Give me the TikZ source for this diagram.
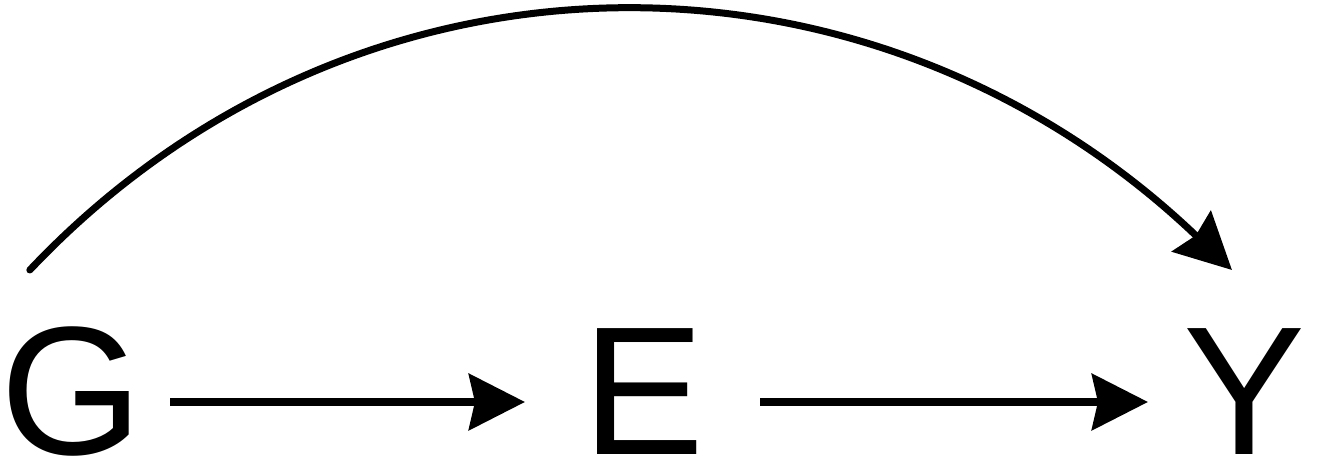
\documentclass[tikz,border=0pt]{standalone}
\usepackage{fontspec}
\setmainfont{Liberation Sans}
\usetikzlibrary{arrows.meta}
\begin{document}
\begin{tikzpicture}[x=1pt,y=1pt,
  var/.style={inner sep=0pt,outer sep=0pt,anchor=base,text depth=0pt,font=\fontsize{183}{200}\selectfont},
  conn/.style={line width=8pt,-{Stealth[length=56pt,width=56pt,inset=6pt]}}]
\useasboundingbox (0,0) rectangle (1318,462);
\node[var] (G) at (72,7) {G};
\node[var] (E) at (644,7) {E};
\node[var] (Y) at (1245,7) {Y};
\draw[conn] ([shift={(27pt,53pt)}]G.base east) -- ([shift={(-58pt,53pt)}]E.base west);
\draw[conn] ([shift={(55pt,53pt)}]E.base east) -- ([shift={(-36pt,53pt)}]Y.base west);
\draw[conn,line width=7pt,line cap=round] ([shift={(29pt,185pt)}]G.base west) .. controls +(325,344) and +(-360,344) .. ([shift={(48pt,185pt)}]Y.base west);
\end{tikzpicture}
\end{document}
